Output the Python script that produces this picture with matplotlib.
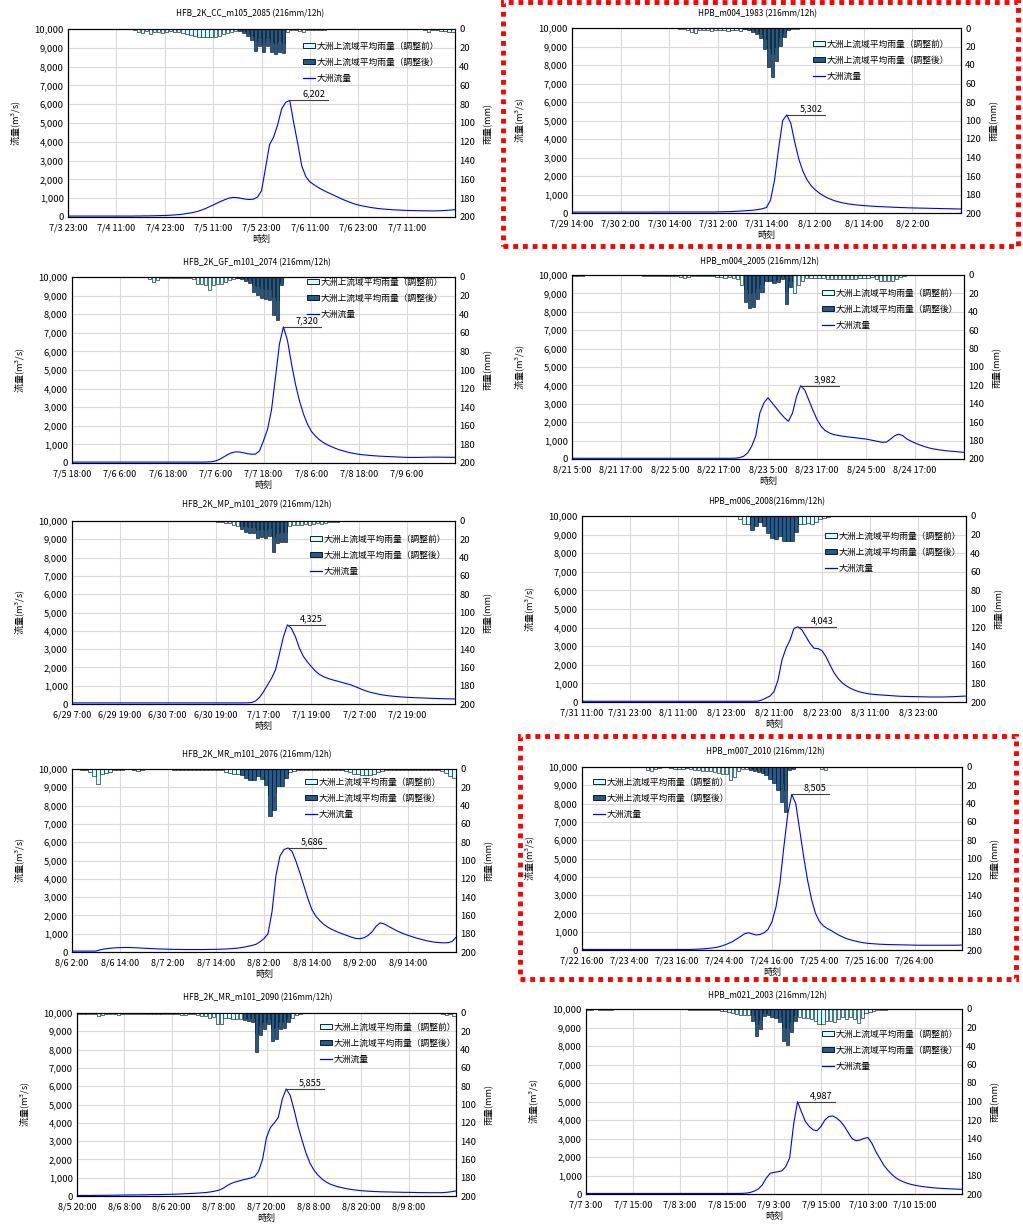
import numpy as np
import pandas as pd
import matplotlib
matplotlib.use("Agg")
import matplotlib.pyplot as plt
from matplotlib.patches import Patch, Rectangle
from matplotlib.lines import Line2D

plt.rcParams['font.family'] = ['Noto Sans CJK JP', 'DejaVu Sans']

LIGHT = '#CCFFFF'
DARK = '#1F5B8E'
LINE = '#0000FF'
GRID = '#D9D9D9'

LABEL_BEFORE = '大洲上流域平均雨量（調整前）'
LABEL_AFTER = '大洲上流域平均雨量（調整後）'
LABEL_FLOW = '大洲流量'

# ---- データ (時間毎: 流量97点, 雨量96本, 調整後雨量は12時間分) ----
titles = [
    'HFB_2K_CC_m105_2085 (216mm/12h)', 'HPB_m004_1983 (216mm/12h)',
    'HFB_2K_GF_m101_2074 (216mm/12h)', 'HPB_m004_2005 (216mm/12h)',
    'HFB_2K_MP_m101_2079 (216mm/12h)', 'HPB_m006_2008(216mm/12h)',
    'HFB_2K_MR_m101_2076 (216mm/12h)', 'HPB_m007_2010 (216mm/12h)',
    'HFB_2K_MR_m101_2090 (216mm/12h)', 'HPB_m021_2003 (216mm/12h)',
]
start_times = ['7/3 23:00', '7/29 14:00', '7/5 18:00', '8/21 5:00', '6/29 7:00',
               '7/31 11:00', '8/6 2:00', '7/22 16:00', '8/5 20:00', '7/7 3:00']

flow_cc2085 = [
    50, 50, 50, 50, 50, 50, 50, 50, 50, 50, 50, 50,
    50, 50, 50, 50, 50, 55, 55, 60, 60, 65, 70, 75,
    80, 90, 105, 120, 140, 170, 200, 240, 290, 360, 440, 540,
    640, 740, 840, 930, 1010, 1040, 1030, 990, 950, 930, 950, 1060,
    1390, 2600, 3850, 4250, 4900, 5750, 6100, 6202, 5000, 3900, 2700, 2150,
    1870, 1720, 1580, 1460, 1350, 1250, 1150, 1050, 950, 860, 780, 700,
    640, 590, 550, 510, 480, 450, 430, 410, 395, 380, 370, 360,
    350, 345, 340, 335, 330, 330, 325, 325, 330, 340, 355, 370,
    390]
rain_cc2085 = [
    0, 0, 0, 0, 0, 0, 0, 0, 0, 0, 0, 0,
    0, 0, 0, 0, 1, 3, 4, 2, 5, 3, 3, 4,
    3, 2, 3, 3, 4, 5, 6, 7, 8, 8, 9, 9,
    8, 7, 5, 4, 3, 2, 1, 2, 4, 7, 13, 10,
    14, 10, 14, 15, 13, 15, 3, 1, 1, 2, 3, 1,
    1, 1, 1, 1, 0, 0, 0, 0, 0, 0, 0, 0,
    0, 0, 0, 0, 0, 0, 0, 0, 0, 0, 0, 0,
    0, 0, 0, 0, 1, 3, 1, 1, 2, 2, 3, 3]
adj_cc2085 = [2, 4, 7, 12, 23, 18, 25, 18, 24, 27, 24, 26]

flow_m004_1983 = [
    50, 50, 50, 50, 50, 50, 50, 50, 50, 50, 50, 50,
    50, 50, 50, 50, 50, 50, 50, 50, 50, 55, 55, 55,
    55, 55, 55, 55, 55, 55, 55, 55, 55, 55, 55, 55,
    60, 65, 70, 75, 85, 95, 110, 125, 140, 160, 190, 230,
    300, 700, 1800, 3500, 5000, 5302, 4850, 3800, 2900, 2250, 1800, 1480,
    1260, 1080, 940, 820, 730, 650, 590, 540, 500, 470, 440, 420,
    400, 385, 370, 355, 345, 335, 325, 315, 305, 295, 290, 280,
    275, 270, 265, 260, 255, 250, 245, 240, 235, 230, 225, 220,
    215]
rain_m004_1983 = [
    0, 0, 0, 0, 0, 0, 0, 0, 0, 0, 0, 0,
    0, 0, 0, 0, 0, 0, 0, 0, 0, 0, 0, 0,
    0, 0, 1, 1, 2, 4, 5, 2, 2, 2, 3, 2,
    2, 2, 3, 2, 2, 3, 1, 1, 2, 4, 6, 12,
    22, 28, 20, 10, 5, 1, 1, 1, 0, 0, 0, 0,
    0, 0, 0, 0, 0, 0, 0, 0, 0, 0, 0, 0,
    0, 0, 0, 0, 0, 0, 0, 0, 0, 0, 0, 0,
    0, 0, 0, 0, 0, 0, 0, 0, 0, 0, 0, 0]
adj_m004_1983 = [1, 2, 4, 7, 11, 23, 42, 53, 36, 19, 10, 2]

flow_gf2074 = [
    50, 50, 50, 50, 50, 50, 50, 50, 50, 50, 50, 50,
    50, 50, 50, 50, 50, 50, 50, 50, 50, 50, 50, 50,
    50, 50, 50, 50, 50, 50, 50, 50, 50, 50, 55, 70,
    110, 200, 320, 450, 550, 600, 590, 550, 500, 470, 480, 650,
    1200, 1800, 2850, 4600, 6400, 7320, 6600, 5350, 4250, 3350, 2650, 2100,
    1700, 1450, 1250, 1100, 980, 880, 790, 710, 650, 590, 540, 500,
    465, 440, 420, 400, 385, 370, 360, 350, 340, 330, 320, 310,
    300, 300, 300, 300, 305, 310, 315, 315, 315, 310, 310, 305,
    305]
rain_gf2074 = [
    0, 0, 0, 0, 0, 0, 0, 0, 0, 0, 0, 0,
    0, 0, 0, 0, 0, 0, 0, 2, 5, 3, 1, 1,
    1, 1, 1, 1, 1, 1, 2, 7, 8, 9, 14, 9,
    7, 7, 5, 3, 2, 1, 1, 2, 3, 9, 10, 12,
    13, 13, 22, 25, 5, 0, 0, 0, 0, 0, 0, 0,
    0, 0, 0, 0, 0, 0, 0, 0, 0, 0, 0, 0,
    0, 0, 0, 0, 0, 0, 0, 0, 0, 0, 0, 1,
    1, 0, 0, 0, 0, 0, 0, 0, 0, 0, 0, 0]
adj_gf2074 = [1, 2, 4, 6, 16, 19, 23, 24, 25, 41, 46, 9]

flow_m004_2005 = [
    40, 40, 40, 40, 40, 40, 40, 40, 40, 40, 40, 40,
    40, 40, 40, 40, 40, 40, 40, 40, 40, 40, 40, 40,
    40, 40, 40, 40, 40, 40, 40, 40, 40, 40, 40, 40,
    40, 40, 40, 40, 45, 70, 145, 325, 690, 1250, 2500, 3050,
    3330, 3050, 2780, 2500, 2250, 2050, 2500, 3400, 3982, 3750, 3200, 2650,
    2150, 1780, 1550, 1420, 1330, 1290, 1250, 1220, 1190, 1165, 1140, 1110,
    1085, 1040, 995, 950, 905, 920, 1080, 1260, 1350, 1270, 1090, 970,
    870, 780, 700, 630, 570, 530, 495, 465, 440, 420, 400, 380,
    360]
rain_m004_2005 = [
    1, 1, 1, 0, 0, 0, 0, 0, 0, 0, 0, 0,
    0, 0, 0, 0, 0, 1, 1, 1, 1, 1, 1, 1,
    1, 1, 2, 3, 2, 1, 1, 1, 1, 1, 1, 2,
    2, 3, 2, 3, 4, 11, 15, 20, 19, 14, 10, 4,
    3, 5, 4, 2, 17, 7, 20, 11, 7, 3, 3, 3,
    3, 3, 4, 4, 4, 4, 4, 4, 4, 4, 3, 3,
    3, 2, 4, 6, 7, 7, 7, 4, 2, 1, 0, 0,
    0, 0, 0, 0, 0, 0, 0, 0, 0, 0, 0, 0]
adj_m004_2005 = [29, 36, 35, 26, 18, 7, 6, 9, 8, 4, 31, 13]

flow_mp2079 = [
    60, 60, 60, 60, 60, 60, 60, 60, 60, 60, 60, 60,
    60, 60, 60, 60, 60, 60, 60, 60, 60, 60, 60, 60,
    60, 60, 60, 60, 60, 60, 60, 60, 60, 60, 60, 60,
    60, 60, 60, 60, 60, 60, 60, 60, 65, 80, 160, 360,
    670, 1040, 1400, 1860, 2750, 3680, 4325, 4130, 3680, 3050, 2600, 2300,
    2040, 1800, 1620, 1500, 1410, 1340, 1280, 1220, 1160, 1100, 1040, 950,
    860, 770, 690, 630, 580, 530, 490, 460, 435, 415, 395, 380,
    365, 355, 345, 335, 330, 320, 310, 305, 295, 290, 285, 280,
    275]
rain_mp2079 = [
    0, 0, 0, 0, 0, 0, 0, 0, 0, 0, 0, 0,
    0, 0, 0, 0, 0, 0, 0, 0, 0, 0, 0, 0,
    0, 0, 0, 0, 0, 0, 0, 0, 0, 0, 0, 0,
    1, 1, 2, 2, 4, 6, 5, 6, 7, 7, 10, 9,
    10, 8, 18, 13, 12, 12, 6, 4, 4, 4, 3, 4,
    3, 2, 3, 2, 1, 1, 1, 0, 0, 0, 0, 0,
    0, 0, 0, 0, 0, 0, 0, 0, 0, 0, 0, 0,
    0, 0, 0, 0, 0, 0, 0, 0, 0, 0, 0, 0]
adj_mp2079 = [9, 12, 13, 13, 19, 17, 19, 16, 34, 24, 23, 23]

flow_m006_2008 = [
    40, 40, 40, 40, 40, 40, 40, 40, 40, 40, 40, 40,
    40, 40, 40, 40, 40, 40, 40, 40, 40, 40, 40, 40,
    40, 40, 40, 40, 40, 40, 40, 40, 40, 40, 40, 40,
    40, 40, 40, 40, 40, 40, 40, 40, 50, 110, 215, 320,
    560, 1180, 2260, 2890, 3330, 3960, 4043, 3870, 3510, 3150, 2890, 2870,
    2760, 2440, 1990, 1580, 1270, 1040, 880, 750, 650, 570, 510, 465,
    430, 410, 390, 375, 360, 345, 330, 315, 305, 300, 295, 290,
    285, 280, 275, 270, 270, 270, 270, 275, 280, 290, 300, 310,
    320]
rain_m006_2008 = [
    0, 0, 0, 0, 0, 0, 0, 0, 0, 0, 0, 0,
    0, 0, 0, 0, 0, 0, 0, 0, 0, 0, 0, 0,
    0, 0, 0, 0, 0, 0, 0, 0, 0, 0, 0, 0,
    0, 0, 0, 3, 9, 9, 8, 6, 3, 6, 10, 13,
    13, 12, 15, 15, 15, 9, 9, 9, 8, 9, 6, 3,
    2, 1, 0, 0, 0, 0, 0, 0, 0, 0, 0, 0,
    0, 0, 0, 0, 0, 0, 0, 0, 0, 0, 0, 0,
    0, 0, 0, 0, 0, 0, 0, 0, 0, 0, 0, 0]
adj_m006_2008 = [15, 11, 6, 11, 18, 24, 25, 22, 27, 27, 27, 17]

flow_mr2076 = [
    50, 50, 50, 50, 50, 50, 50, 120, 160, 190, 215, 230,
    240, 245, 245, 240, 230, 220, 205, 195, 185, 175, 165, 160,
    150, 145, 140, 140, 135, 135, 135, 135, 135, 135, 140, 140,
    145, 150, 160, 170, 185, 205, 230, 265, 310, 360, 420, 560,
    730, 1000, 2200, 4200, 5250, 5600, 5686, 5500, 4950, 4300, 3600, 2900,
    2300, 1950, 1700, 1500, 1350, 1230, 1130, 1040, 960, 880, 800, 740,
    730, 780, 900, 1100, 1400, 1590, 1540, 1420, 1300, 1180, 1080, 990,
    910, 840, 770, 710, 650, 600, 560, 530, 510, 500, 510, 570,
    800]
rain_mr2076 = [
    0, 0, 1, 1, 3, 8, 16, 5, 4, 3, 1, 1,
    1, 0, 0, 1, 2, 1, 0, 0, 0, 0, 0, 0,
    0, 1, 1, 1, 1, 1, 1, 1, 1, 1, 1, 1,
    1, 1, 3, 4, 5, 5, 4, 6, 7, 7, 5, 6,
    10, 28, 25, 10, 10, 6, 3, 2, 1, 1, 1, 1,
    1, 1, 1, 1, 1, 1, 1, 1, 2, 3, 5, 6,
    7, 7, 7, 5, 3, 2, 1, 1, 1, 1, 1, 1,
    1, 1, 1, 1, 1, 1, 1, 1, 2, 4, 8, 10]
adj_mr2076 = [7, 10, 12, 12, 8, 11, 18, 51, 45, 19, 19, 10]

flow_m007_2010 = [
    30, 30, 30, 30, 30, 30, 30, 30, 30, 30, 30, 30,
    30, 30, 30, 30, 30, 30, 30, 30, 30, 30, 30, 30,
    30, 30, 30, 30, 35, 45, 55, 70, 90, 115, 145, 200,
    270, 360, 455, 590, 730, 880, 945, 880, 820, 850, 940, 1130,
    1550, 2350, 3650, 5650, 7450, 8505, 8000, 6550, 5100, 3800, 2750, 2000,
    1550, 1320, 1170, 1060, 920, 800, 700, 610, 545, 490, 440, 400,
    370, 350, 335, 320, 310, 300, 295, 290, 285, 280, 275, 270,
    265, 260, 260, 260, 260, 260, 260, 260, 260, 260, 260, 265,
    270]
rain_m007_2010 = [
    0, 0, 0, 0, 0, 0, 0, 0, 0, 0, 0, 0,
    0, 0, 0, 0, 3, 4, 2, 1, 0, 0, 1, 2,
    2, 2, 1, 2, 3, 3, 4, 4, 4, 5, 7, 8,
    8, 14, 11, 4, 2, 2, 2, 2, 3, 4, 5, 7,
    9, 12, 18, 25, 1, 1, 0, 0, 0, 0, 0, 0,
    2, 3, 0, 0, 0, 0, 0, 0, 0, 0, 0, 0,
    0, 0, 0, 0, 0, 0, 0, 0, 0, 0, 0, 0,
    0, 0, 0, 0, 0, 0, 0, 0, 0, 0, 0, 0]
adj_m007_2010 = [3, 4, 5, 7, 9, 13, 18, 25, 38, 49, 3, 2]

flow_mr2090 = [
    30, 30, 30, 30, 30, 35, 35, 40, 40, 45, 45, 50,
    55, 55, 60, 60, 65, 65, 70, 75, 75, 80, 85, 90,
    95, 100, 110, 120, 130, 140, 150, 165, 180, 200, 230, 270,
    320, 420, 560, 680, 760, 820, 880, 930, 980, 1060, 1350, 2000,
    3200, 3750, 4000, 4300, 5300, 5855, 5500, 4700, 3800, 3050, 2350, 1800,
    1420, 1150, 940, 780, 660, 580, 510, 460, 410, 375, 340, 315,
    290, 275, 260, 250, 240, 230, 225, 220, 215, 210, 205, 200,
    200, 195, 190, 185, 185, 180, 180, 180, 180, 190, 210, 240,
    280]
rain_mr2090 = [
    1, 1, 1, 1, 1, 3, 2, 1, 1, 1, 2, 1,
    1, 1, 1, 1, 1, 1, 1, 1, 1, 1, 1, 1,
    1, 1, 2, 2, 1, 1, 2, 3, 3, 5, 4, 12,
    12, 6, 6, 7, 7, 7, 5, 5, 5, 22, 13, 10,
    7, 16, 15, 10, 9, 6, 6, 2, 1, 0, 0, 0,
    0, 0, 0, 0, 0, 0, 0, 0, 0, 0, 0, 0,
    0, 0, 0, 0, 0, 0, 0, 0, 0, 0, 0, 0,
    0, 0, 0, 0, 0, 0, 0, 0, 1, 2, 1, 3]
adj_mr2090 = [8, 9, 10, 43, 24, 18, 12, 31, 28, 18, 16, 10]

flow_m021_2003 = [
    30, 30, 30, 30, 30, 30, 30, 30, 30, 30, 30, 30,
    30, 30, 30, 30, 30, 30, 30, 30, 30, 30, 30, 30,
    30, 30, 30, 30, 30, 30, 30, 30, 30, 30, 30, 30,
    30, 30, 30, 30, 35, 50, 90, 160, 270, 490, 850, 1120,
    1170, 1200, 1250, 1480, 1950, 3750, 4987, 4450, 3920, 3650, 3470, 3420,
    3650, 4000, 4190, 4220, 4100, 3920, 3650, 3300, 2980, 2880, 2920, 3010,
    3050, 2740, 2290, 1930, 1570, 1300, 1070, 890, 760, 660, 580, 520,
    470, 435, 400, 375, 350, 330, 315, 300, 290, 280, 270, 260,
    255]
rain_m021_2003 = [
    1, 1, 0, 1, 1, 1, 1, 0, 0, 0, 0, 0,
    0, 0, 0, 0, 0, 0, 0, 0, 0, 0, 0, 0,
    0, 0, 1, 1, 1, 1, 1, 1, 1, 1, 2, 2,
    3, 4, 5, 6, 6, 6, 7, 16, 12, 4, 4, 5,
    6, 8, 19, 21, 14, 7, 9, 10, 10, 11, 13, 16,
    16, 13, 13, 14, 11, 9, 11, 9, 11, 15, 10, 4,
    3, 2, 1, 1, 1, 0, 0, 0, 0, 0, 0, 0,
    0, 0, 0, 0, 0, 0, 0, 0, 0, 0, 0, 0]
adj_m021_2003 = [13, 29, 22, 8, 7, 9, 10, 14, 35, 39, 25, 13]

adj_start = [42, 42, 41, 42, 42, 42, 42, 42, 42, 42]

flows = [flow_cc2085, flow_m004_1983, flow_gf2074, flow_m004_2005, flow_mp2079,
         flow_m006_2008, flow_mr2076, flow_m007_2010, flow_mr2090, flow_m021_2003]
rains = [rain_cc2085, rain_m004_1983, rain_gf2074, rain_m004_2005, rain_mp2079,
         rain_m006_2008, rain_mr2076, rain_m007_2010, rain_mr2090, rain_m021_2003]
adjs = [adj_cc2085, adj_m004_1983, adj_gf2074, adj_m004_2005, adj_mp2079,
        adj_m006_2008, adj_mr2076, adj_m007_2010, adj_mr2090, adj_m021_2003]

# ---- レイアウト (ピクセル) ----
W, H = 1023, 1224
boxes = [(68, 29, 455, 217), (572, 28, 961, 213),
         (72, 277, 455, 463), (572, 275, 964, 459),
         (72, 521, 455, 704), (582, 516, 966, 702),
         (72, 769, 456, 952), (582, 767, 962, 950),
         (77, 1013, 456, 1196), (586, 1009, 962, 1194)]
title_pos = [(250, 14), (758, 14), (257, 263), (760, 262), (257, 505),
             (767, 502), (257, 755), (765, 752), (258, 998), (767, 996)]
legend_pos = [(303, 47), (813, 45), (307, 283), (822, 294), (310, 540),
              (825, 537), (305, 783), (593, 783), (320, 1028), (822, 1035)]

fig = plt.figure(figsize=(W / 100, H / 100), dpi=100)
fig.patch.set_facecolor('white')


def draw_panel(i):
    l, t, r, b = boxes[i]
    flow = flows[i]
    rain = rains[i]
    adj = adjs[i]
    ax = fig.add_axes([l / W, 1 - b / H, (r - l) / W, (b - t) / H])
    hours = np.arange(len(flow))
    ax.plot(hours, flow, color=LINE, lw=0.8)
    ax.set_xlim(0, 96)
    ax.set_ylim(0, 10000)
    yt = np.arange(0, 10001, 1000)
    ax.set_yticks(yt)
    ax.set_yticklabels([f'{v:,}' for v in yt])
    t0 = pd.to_datetime('2000/' + start_times[i])
    labels = []
    for k in range(9):
        tk = t0 + pd.Timedelta(hours=12 * k)
        labels.append(f'{tk.month}/{tk.day} {tk.hour}:{tk.minute:02d}' if k < 8 else '')
    ax.set_xticks(np.arange(0, 97, 12))
    ax.set_xticklabels(labels)
    ax.grid(True, color=GRID, lw=0.8)
    ax.set_axisbelow(True)
    ax.tick_params(axis='y', length=0, labelsize=6.8, pad=3)
    ax.tick_params(axis='x', length=0, labelsize=6.5, pad=4.5)
    ax.set_xlabel('時刻', fontsize=6.5, labelpad=2)
    ax.set_ylabel('流量(m$^3$/s)', fontsize=6.5, labelpad=8)

    # ピーク表示
    ip = int(np.argmax(flow))
    pv = flow[ip]
    ax.plot([ip, ip + 9.5], [pv, pv], color='#404040', lw=0.8)
    ax.text(ip + 6, pv + 100, f'{pv:,}', ha='center', va='bottom', fontsize=6.5)

    ax2 = ax.twinx()
    ax2.bar(np.arange(len(rain)) + 0.5, rain, width=0.8, color=LIGHT,
            edgecolor='black', lw=0.4)
    s = adj_start[i]
    ax2.bar(np.arange(s, s + len(adj)) + 0.5, adj, width=0.8, color=DARK,
            edgecolor='black', lw=0.4)
    ax2.set_ylim(200, 0)
    ax2.set_yticks(np.arange(0, 201, 20))
    ax2.tick_params(length=0, labelsize=6.8, pad=3)
    ax2.set_ylabel('雨量(mm)', fontsize=6.5, rotation=90, labelpad=6)
    for a in (ax, ax2):
        for sp in a.spines.values():
            sp.set_color('black')
            sp.set_linewidth(0.8)

    handles = [Patch(facecolor=LIGHT, edgecolor='black', lw=0.6),
               Patch(facecolor=DARK, edgecolor='black', lw=0.6),
               Line2D([], [], color=LINE, lw=0.9)]
    lx, ly = legend_pos[i]
    ax2.legend(handles, [LABEL_BEFORE, LABEL_AFTER, LABEL_FLOW], loc='upper left',
               bbox_to_anchor=(lx / W, 1 - (ly - 5) / H), bbox_transform=fig.transFigure,
               frameon=False, fontsize=6.3, handlelength=1.4, handleheight=0.5,
               handletextpad=0.1, labelspacing=0.8, borderpad=0, borderaxespad=0)

    tx, ty = title_pos[i]
    fig.text(tx / W, 1 - ty / H, titles[i], ha='center', va='center', fontsize=5.9)


for i in range(10):
    draw_panel(i)

# 赤点線の枠
for (x0, y0, x1, y1) in [(503, 2, 1018, 246), (520, 736, 1016, 979)]:
    fig.add_artist(Rectangle((x0 / W, 1 - y1 / H), (x1 - x0) / W, (y1 - y0) / H,
                             transform=fig.transFigure, fill=False, edgecolor='#FF0000',
                             lw=3.5, linestyle=(0, (1, 1))))

fig.savefig('out.png', dpi=100)
